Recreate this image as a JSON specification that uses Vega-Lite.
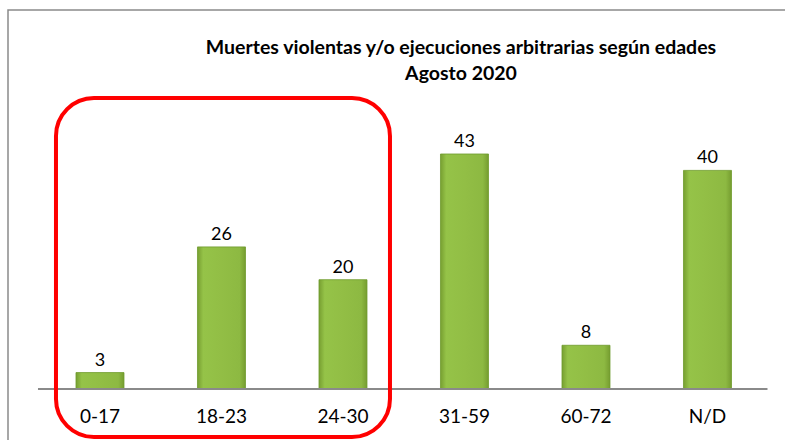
{
  "$schema": "https://vega.github.io/schema/vega-lite/v6.json",
  "autosize": "none",
  "width": 782,
  "height": 435,
  "padding": {"left": 8, "top": 10, "right": 0, "bottom": 0},
  "background": "white",
  "config": {
    "view": {"stroke": "#8a8a8a", "strokeWidth": 1.5},
    "font": "Lato"
  },
  "title": {
    "text": ["Muertes violentas y/o ejecuciones arbitrarias según edades", "Agosto 2020"],
    "orient": "top",
    "anchor": "middle",
    "offset": -74,
    "dx": 62,
    "font": "Lato",
    "fontSize": 19.5,
    "fontWeight": "bold",
    "color": "#000000",
    "lineHeight": 26
  },
  "data": {
    "values": [
      {"edad": "0-17", "muertes": 3},
      {"edad": "18-23", "muertes": 26},
      {"edad": "24-30", "muertes": 20},
      {"edad": "31-59", "muertes": 43},
      {"edad": "60-72", "muertes": 8},
      {"edad": "N/D", "muertes": 40}
    ]
  },
  "encoding": {
    "x": {
      "field": "edad",
      "type": "nominal",
      "sort": null,
      "scale": {"paddingInner": 0.605, "paddingOuter": 0.5206, "align": 0.5375},
      "axis": {
        "title": null,
        "orient": "bottom",
        "offset": -56,
        "domain": false,
        "ticks": false,
        "tickSize": 0,
        "labelPadding": 33,
        "labelBaseline": "alphabetic",
        "labelAngle": 0,
        "labelFont": "Lato",
        "labelFontSize": 19,
        "labelColor": "#000000",
        "grid": false
      }
    }
  },
  "layer": [
    {
      "mark": {
        "type": "bar",
        "stroke": "#6f9a2c",
        "strokeWidth": 0.8,
        "fill": {
          "x1": 0, "y1": 0, "x2": 1, "y2": 0,
          "gradient": "linear",
          "stops": [
            {"offset": 0, "color": "#779f31"},
            {"offset": 0.12, "color": "#95c348"},
            {"offset": 0.5, "color": "#92be45"},
            {"offset": 0.88, "color": "#8db942"},
            {"offset": 1, "color": "#769d30"}
          ]
        }
      },
      "encoding": {
        "y": {
          "field": "muertes",
          "type": "quantitative",
          "scale": {"domain": [-10.25, 69.35], "zero": false, "nice": false},
          "axis": null
        },
        "y2": {"datum": 0}
      }
    },
    {
      "mark": {"type": "text", "baseline": "alphabetic", "dy": -7, "fontSize": 18, "font": "Lato", "color": "#000000"},
      "encoding": {
        "y": {"field": "muertes", "type": "quantitative"},
        "text": {"field": "muertes", "type": "quantitative"}
      }
    },
    {
      "data": {"values": [{"desde": "0-17", "hasta": "N/D", "base": 0}]},
      "mark": {"type": "rule", "color": "#8a8a8a", "strokeWidth": 2},
      "encoding": {
        "x": {"field": "desde", "type": "nominal", "bandPosition": -0.792},
        "x2": {"field": "hasta", "bandPosition": 1.75},
        "y": {"field": "base", "type": "quantitative"}
      }
    },
    {
      "data": {"values": [{"desde": "0-17", "hasta": "24-30", "arriba": 53.25, "abajo": -8.78}]},
      "mark": {"type": "rect", "fill": null, "fillOpacity": 0, "stroke": "#ff0000", "strokeWidth": 4, "cornerRadius": 38},
      "encoding": {
        "x": {"field": "desde", "type": "nominal", "bandPosition": -0.417},
        "x2": {"field": "hasta", "bandPosition": 1.479},
        "y": {"field": "arriba", "type": "quantitative"},
        "y2": {"field": "abajo"}
      }
    }
  ]
}
